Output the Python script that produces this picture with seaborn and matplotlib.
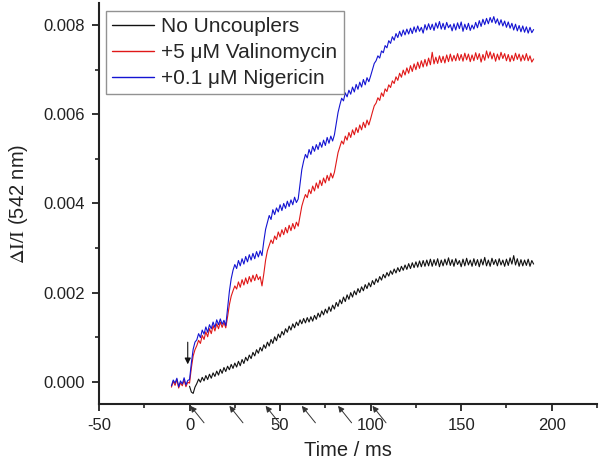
import numpy as np
import pandas as pd
import matplotlib
matplotlib.use("Agg")
import matplotlib.pyplot as plt
import seaborn as sns

# ---- data: ΔI/I values, in units of 1e-4, 1 ms steps ----
t_uncoupled = list(range(0, 191))
no_uncouplers = [
    -1.0, -2.3, -2.6, -1.2, -0.4, 0.6, -0.1, 1.0, 0.2, 1.4,
    0.5, 1.7, 0.8, 2.0, 1.2, 2.4, 1.5, 2.8, 1.9, 3.2,
    2.3, 3.5, 2.7, 3.9, 3.0, 4.2, 3.3, 4.6, 3.6, 5.0,
    4.1, 5.5, 4.7, 6.0, 5.2, 6.6, 5.8, 7.2, 6.4, 7.7,
    6.9, 8.3, 7.5, 8.9, 8.0, 9.5, 8.6, 10.1, 9.2, 10.7,
    9.9, 11.3, 10.5, 11.9, 11.1, 12.5, 11.6, 13.0, 12.1, 13.4,
    12.6, 13.9, 13.0, 14.2, 13.2, 14.4, 13.4, 14.6, 13.6, 14.9,
    14.0, 15.4, 14.5, 15.9, 15.0, 16.3, 15.4, 16.8, 15.8, 17.2,
    16.3, 17.8, 16.9, 18.4, 17.5, 19.0, 18.0, 19.5, 18.5, 20.0,
    19.0, 20.4, 19.5, 20.9, 20.0, 21.3, 20.4, 21.8, 20.9, 22.2,
    21.3, 22.7, 21.8, 23.1, 22.3, 23.6, 22.8, 24.1, 23.3, 24.5,
    23.7, 24.9, 24.1, 25.3, 24.4, 25.6, 24.7, 25.9, 25.0, 26.2,
    25.2, 26.5, 25.4, 26.7, 25.6, 26.9, 25.7, 27.1, 25.8, 27.2,
    25.9, 27.3, 26.0, 27.5, 25.9, 27.4, 26.1, 27.6, 25.8, 27.3,
    26.0, 27.5, 26.2, 27.8, 26.1, 27.4, 25.9, 27.6, 26.3, 27.2,
    25.8, 27.5, 26.0, 27.7, 26.2, 27.3, 25.9, 27.6, 26.1, 27.4,
    25.8, 27.5, 26.2, 27.9, 26.0, 27.3, 25.9, 27.7, 26.3, 27.4,
    26.0, 27.6, 26.2, 27.3, 25.9, 27.5, 26.1, 27.8, 26.4, 28.3,
    26.2, 27.6, 25.9, 27.4, 26.0, 27.3, 26.1, 27.5, 25.9, 27.2,
    26.4,
]

t_drug = list(range(-10, 191))
valinomycin = [
    -1.2, 0.1, -0.8, 0.5, -1.4, -0.2, -0.9, 0.4, -1.1, -0.1,
    -0.3, 3.1, 5.8, 7.2, 8.1, 9.3, 8.6, 10.4, 9.5, 11.2,
    10.1, 11.9, 10.8, 12.6, 11.4, 13.0, 11.9, 13.4, 12.2, 13.3,
    12.1, 14.6, 17.3, 19.2, 20.4, 21.5, 20.8, 22.4, 21.2, 22.9,
    21.7, 23.3, 22.0, 23.6, 22.4, 23.9, 22.7, 24.1, 22.9, 23.6,
    21.5, 24.2, 27.3, 29.4, 30.6, 31.8, 31.0, 32.7, 31.9, 33.6,
    32.5, 34.1, 33.0, 34.6, 33.4, 35.1, 33.9, 35.5, 34.3, 35.8,
    34.9, 37.1, 39.4, 40.8, 42.0, 41.3, 43.1, 42.2, 43.9, 42.8,
    44.6, 43.4, 45.2, 44.0, 45.7, 44.6, 46.3, 45.1, 46.8, 45.7,
    47.0, 49.2, 51.4, 52.7, 54.0, 53.3, 55.1, 54.2, 55.9, 54.8,
    56.5, 55.4, 57.0, 55.9, 57.6, 56.5, 58.2, 57.0, 58.7, 57.6,
    59.0, 60.5, 61.9, 62.5, 63.7, 63.1, 64.8, 64.0, 65.7, 65.1,
    66.6, 66.0, 67.5, 66.9, 68.4, 67.6, 69.2, 68.3, 69.9, 68.8,
    70.4, 69.2, 70.9, 69.6, 71.3, 70.0, 71.7, 70.3, 72.0, 70.6,
    72.3, 70.8, 72.6, 71.1, 73.9, 71.3, 72.8, 71.4, 73.1, 71.6,
    73.0, 71.5, 73.3, 71.8, 73.5, 71.9, 73.2, 72.0, 73.6, 72.1,
    73.4, 71.9, 73.7, 72.2, 73.5, 71.8, 73.3, 72.0, 73.8, 72.3,
    73.6, 71.7, 73.4, 72.1, 74.2, 72.6, 74.0, 72.4, 73.7, 71.9,
    73.5, 72.2, 73.9, 72.5, 73.6, 72.0, 73.4, 71.8, 73.2, 72.0,
    73.7, 72.3, 73.5, 71.9, 73.3, 72.1, 73.6, 72.0, 73.1, 71.7,
    72.4,
]
nigericin = [
    -0.9, 0.4, -0.3, 0.8, -1.1, 0.2, -0.5, 0.9, -0.7, 0.3,
    0.5, 4.2, 7.3, 8.9, 9.4, 10.8, 9.9, 11.6, 10.7, 12.3,
    11.1, 12.8, 11.9, 13.4, 12.2, 13.9, 12.8, 14.1, 12.9, 13.8,
    12.6, 16.4, 20.3, 23.1, 25.0, 26.3, 25.4, 27.2, 26.0, 27.6,
    26.4, 28.1, 26.9, 28.5, 27.3, 28.8, 27.6, 29.2, 28.0, 29.4,
    28.3, 31.5, 34.2, 35.8, 37.3, 36.4, 38.6, 37.5, 39.0, 38.1,
    39.7, 38.4, 40.0, 38.9, 40.5, 39.3, 40.8, 39.7, 41.4, 40.2,
    41.0, 44.3, 47.6, 49.5, 51.0, 50.2, 52.1, 51.0, 52.8, 51.7,
    53.2, 52.1, 53.7, 52.6, 54.2, 53.0, 54.8, 53.5, 55.1, 54.0,
    55.4, 57.9, 60.4, 62.1, 63.6, 63.0, 64.8, 63.9, 65.4, 64.5,
    66.1, 65.0, 66.7, 65.6, 67.2, 66.1, 67.8, 66.6, 68.2, 67.3,
    68.6, 70.0, 71.4, 72.0, 73.1, 72.6, 74.2, 73.8, 75.4, 74.9,
    76.5, 75.9, 77.4, 76.6, 78.1, 77.2, 78.6, 77.5, 78.9, 77.8,
    79.1, 78.0, 79.3, 78.1, 79.6, 78.4, 79.8, 78.6, 79.5, 78.2,
    80.1, 78.9, 80.3, 79.0, 80.2, 78.8, 80.5, 79.3, 80.8, 79.1,
    80.4, 79.0, 80.6, 79.4, 80.1, 78.7, 80.3, 78.9, 80.5, 79.2,
    80.7, 78.6, 80.2, 79.0, 80.4, 78.8, 80.0, 79.1, 80.6, 79.4,
    81.0, 79.7, 81.3, 80.1, 81.5, 80.3, 81.7, 80.6, 81.9, 80.4,
    81.4, 80.0, 81.2, 79.8, 80.9, 79.5, 80.7, 79.3, 80.4, 78.9,
    80.2, 78.7, 79.9, 78.5, 79.8, 78.4, 79.6, 78.2, 79.5, 78.3,
    79.0,
]

series_names = ["No Uncouplers", "+5 \u03bcM Valinomycin", "+0.1 \u03bcM Nigericin"]
series_colors = ["#111111", "#e01818", "#1414d2"]
pulse_times = [0.5, 22, 42, 62, 82, 101]   # arrow markers below the axis
start_time = -1                           # vertical arrow marker

SCALE = 1e-4
df = pd.concat([
    pd.DataFrame({"t": t_uncoupled, "v": np.array(no_uncouplers) * SCALE, "s": series_names[0]}),
    pd.DataFrame({"t": t_drug, "v": np.array(valinomycin) * SCALE, "s": series_names[1]}),
    pd.DataFrame({"t": t_drug, "v": np.array(nigericin) * SCALE, "s": series_names[2]}),
], ignore_index=True)

sns.set_style("ticks")
plt.rcParams["font.family"] = ["Liberation Sans", "DejaVu Sans"]
plt.rcParams["mathtext.fontset"] = "stix"
plt.rcParams["axes.unicode_minus"] = False

fig = plt.figure(figsize=(6.0, 4.65), dpi=100)
ax = fig.add_axes([0.165, 0.131, 0.830, 0.863])

sns.lineplot(data=df, x="t", y="v", hue="s", hue_order=series_names,
             palette=dict(zip(series_names, series_colors)),
             estimator=None, lw=0.8, ax=ax)

ax.set_xlim(-50, 225)
ax.set_ylim(-0.0005, 0.0085)
ax.set_xticks([-50, 0, 50, 100, 150, 200])
ax.set_xticks([-25, 25, 75, 125, 175, 225], minor=True)
ax.set_yticks([0.000, 0.002, 0.004, 0.006, 0.008])
ax.set_yticks([0.001, 0.003, 0.005, 0.007], minor=True)
ax.yaxis.set_major_formatter(matplotlib.ticker.FormatStrFormatter("%.3f"))

for side in ["top", "right"]:
    ax.spines[side].set_visible(False)
for side in ["left", "bottom"]:
    ax.spines[side].set_linewidth(1.5)
    ax.spines[side].set_color("#222222")
ax.tick_params(which="major", length=5, width=1.3, color="#222222",
               labelsize=12, labelcolor="#222222", pad=5)
ax.tick_params(which="minor", length=3, width=1.2, color="#222222")

ax.set_xlabel("Time / ms", fontsize=14.5, color="#222222", labelpad=6)
ax.set_ylabel(r"$\mathrm{\Delta I/I}$ (542 nm)", fontsize=14.5, color="#222222", labelpad=10)

# arrows
ax.annotate("", xy=(start_time, 0.00033), xytext=(start_time, 0.00095),
            arrowprops=dict(arrowstyle="-|>", color="#111111", lw=0.8, mutation_scale=9))
for tp in pulse_times:
    ax.annotate("", xy=(tp, -0.00054), xytext=(tp + 7.5, -0.00092),
                annotation_clip=False,
                arrowprops=dict(arrowstyle="-|>", color="#333333", lw=0.7,
                                mutation_scale=9, shrinkA=0, shrinkB=0))

leg = ax.legend(loc="upper left", bbox_to_anchor=(0.014, 0.98), fontsize=15,
                frameon=True, fancybox=False, edgecolor="#777777",
                handlelength=2.0, handletextpad=0.35, labelspacing=0.33,
                borderpad=0.3, borderaxespad=0.0)
leg.get_frame().set_linewidth(1.0)
for line in leg.get_lines():
    line.set_linewidth(1.0)

fig.savefig("out.png", dpi=100)
